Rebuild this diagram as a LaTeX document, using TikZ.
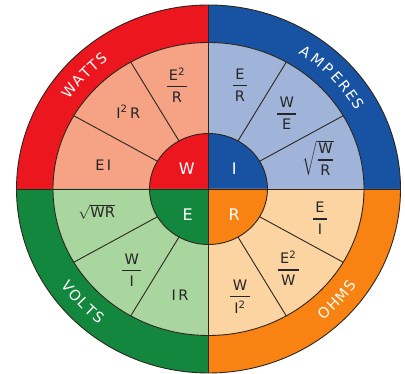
\documentclass[tikz,border=0pt]{standalone}
\usepackage{amsmath}
\usepackage{fontspec}
\setmainfont{DejaVu Sans}
\definecolor{cred}{RGB}{236,22,30}
\definecolor{cblue}{RGB}{24,82,163}
\definecolor{cgreen}{RGB}{20,135,62}
\definecolor{corange}{RGB}{248,130,18}
\definecolor{lred}{RGB}{245,162,133}
\definecolor{lblue}{RGB}{160,180,218}
\definecolor{lgreen}{RGB}{168,214,158}
\definecolor{lorange}{RGB}{251,212,162}
\definecolor{edge}{RGB}{45,38,30}
\newcommand{\fr}[2]{$\genfrac{}{}{1.4pt}{0}{\mbox{\,#1\,}}{\mbox{\,#2\,}}$}
\tikzset{
  ringtxt/.style={text=white,font=\fontsize{14.5}{14.5}\selectfont,inner sep=0pt},
  formula/.style={text=black!85,font=\fontsize{14.5}{16}\selectfont,inner sep=0pt},
  hubtxt/.style={text=white,font=\fontsize{16}{16}\selectfont,inner sep=0pt},
  outline/.style={draw=edge,line width=0.9pt}
}
\begin{document}
\begin{tikzpicture}[x=1pt,y=1pt]
\useasboundingbox (0,0) rectangle (405,374);
\coordinate (c) at (208.5,185);
% quadrant fills: outer ring, inner ring, hub
\foreach \sa/\oc/\ic in {90/cred/lred, 0/cblue/lblue, 180/cgreen/lgreen, 270/corange/lorange}{
  \fill[\oc] (c) -- ([shift={(\sa:192 and 184)}]c) arc[start angle=\sa, delta angle=90, x radius=192, y radius=184] -- cycle;
  \fill[\ic] (c) -- ([shift={(\sa:155.5 and 146.5)}]c) arc[start angle=\sa, delta angle=90, x radius=155.5, y radius=146.5] -- cycle;
  \fill[\oc] (c) -- ([shift={(\sa:59 and 55.5)}]c) arc[start angle=\sa, delta angle=90, x radius=59, y radius=55.5] -- cycle;
}
% sector lines
\foreach \a in {30,60,120,150,210,240,300,330}{
  \draw[outline] ([shift={(\a:59 and 55.5)}]c) -- ([shift={(\a:155.5 and 146.5)}]c);
}
% outlines
\draw[outline] (c) ellipse[x radius=192, y radius=184];
\draw[outline] (c) ellipse[x radius=155.5, y radius=146.5];
\draw[outline] (c) ellipse[x radius=59, y radius=55.5];
\draw[outline] ([shift={(90:192 and 184)}]c) -- ([shift={(270:192 and 184)}]c);
\draw[outline] ([shift={(180:192 and 184)}]c) -- ([shift={(0:192 and 184)}]c);
% ring texts
\foreach \ch/\a [count=\i] in {W/143.4,A/138.9,T/135,T/131.5,S/128}
  \node[ringtxt, rotate=\a-90] (watts\i) at ([shift={(\a:174 and 165)}]c) {\ch};
\foreach \ch/\a [count=\i] in {A/56.2,M/51.2,P/46.6,E/42.4,R/38.5,E/34.7,S/31}
  \node[ringtxt, rotate=\a-90] (amp\i) at ([shift={(\a:174 and 165)}]c) {\ch};
\foreach \ch/\a [count=\i] in {V/216,O/220,L/223.8,T/227.3,S/230.8}
  \node[ringtxt, rotate=\a+90] (volts\i) at ([shift={(\a:174 and 165)}]c) {\ch};
\foreach \ch/\a [count=\i] in {O/-48.5,H/-44.3,M/-40,S/-35.8}
  \node[ringtxt, rotate=\a+90] (ohms\i) at ([shift={(\a:174 and 165)}]c) {\ch};
% hub letters
\node[hubtxt] (hw) at (186.7,205.7) {W};
\node[hubtxt] (hi) at (234.3,205.7) {I};
\node[hubtxt] (he) at (187.7,159) {E};
\node[hubtxt] (hr) at (234.3,159) {R};
% formulas
\node[formula] (f1) at (177,289) {\fr{E\textsuperscript{2}}{R}};
\node[formula] (f2) at (128.3,262.3) {I\textsuperscript{2}\,R};
\node[formula] (f3) at (103.3,209) {E\,I};
\node[formula] (f4) at (240,289) {\fr{E}{R}};
\node[formula] (f5) at (286.7,260.7) {\fr{W}{E}};
\node[formula] (f6) at (318.3,215.7) {$\sqrt{\genfrac{}{}{1.4pt}{0}{\mbox{W}}{\mbox{R}}}$};
\node[formula] (f7) at (96.7,162.3) {$\sqrt{\mbox{WR}}$};
\node[formula] (f8) at (131.7,104) {\fr{W}{I}};
\node[formula] (f9) at (180,79) {I\,R};
\node[formula] (f10) at (320,155.7) {\fr{E}{I}};
\node[formula] (f11) at (288.3,105.7) {\fr{E\textsuperscript{2}}{W}};
\node[formula] (f12) at (240,77.3) {\fr{W}{I\textsuperscript{2}}};
\end{tikzpicture}
\end{document}
